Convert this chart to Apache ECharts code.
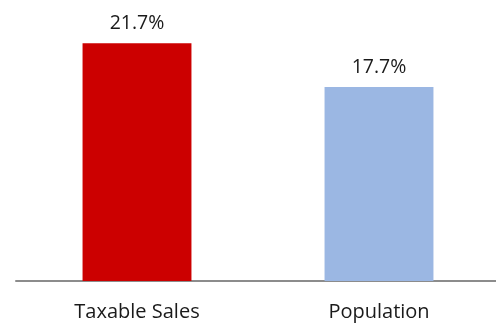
<!DOCTYPE html>
<html>
<head>
    <meta charset="utf-8" />
    <title>Taxable Sales vs Population</title>
    <script type="text/javascript" src="https://cdn.jsdelivr.net/npm/echarts@6/dist/echarts.min.js"></script>
    <style>
        html, body { margin: 0; padding: 0; background: #fff; overflow: hidden; }
    </style>
</head>
<body>
<!-- a bit wider than the window so the axis runs off the right edge like the original -->
<div id="main" style="width: 500px;height:324px;"></div>
<script type="text/javascript">
    // data
    var categories = ['Taxable Sales', 'Population'];
    var values = [21.7, 17.7];
    var barColors = ['#CC0000', '#9BB7E3'];

    var myChart = echarts.init(document.getElementById('main'));
    var option = {
        animation: false,
        grid: {
            left: 16,
            right: 0,
            top: 7,
            bottom: 43
        },
        xAxis: {
            type: 'category',
            data: categories,
            axisLine: { lineStyle: { color: '#8c8c8c', width: 2 } },
            axisTick: { show: false },
            axisLabel: {
                margin: 21,
                color: '#1a1a1a',
                fontSize: 20,
                fontFamily: 'Open Sans'
            }
        },
        yAxis: {
            type: 'value',
            min: 0,
            max: 25,
            show: false,
            splitLine: { show: false }
        },
        series: [
            {
                type: 'bar',
                barWidth: '45%',
                data: values.map(function (v, i) {
                    return { value: v, itemStyle: { color: barColors[i] } };
                }),
                label: {
                    show: true,
                    position: 'top',
                    distance: 10,
                    color: '#1a1a1a',
                    fontSize: 19.5,
                    fontFamily: 'Open Sans',
                    formatter: function (p) { return p.value.toFixed(1) + '%'; }
                }
            }
        ]
    };
    myChart.setOption(option);
</script>
</body>
</html>
